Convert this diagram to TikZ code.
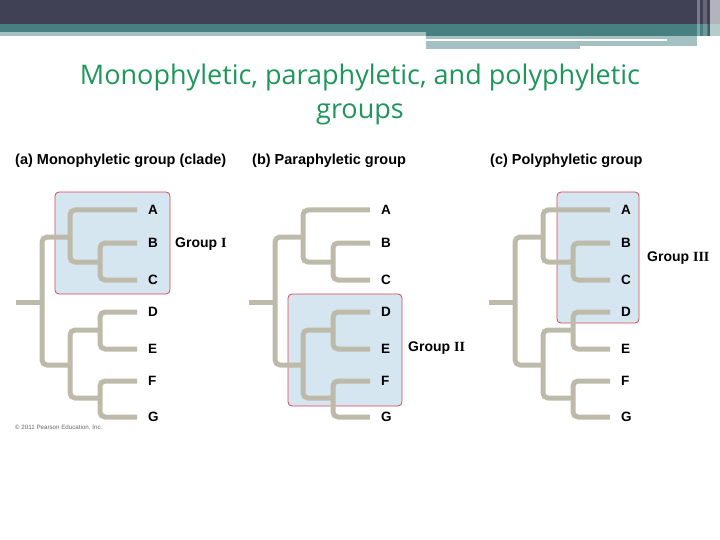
\documentclass[tikz,border=0pt]{standalone}
\usepackage{fontspec}
\setmainfont{Liberation Sans}
\newfontfamily\titlefont{Open Sans}
\newfontfamily\numfont{Liberation Serif}

\definecolor{hdrdark}{RGB}{65,65,85}
\definecolor{hdrteal}{RGB}{72,128,130}
\definecolor{hdrlight}{RGB}{165,192,195}
\definecolor{titlegreen}{RGB}{30,150,90}
\definecolor{treegrey}{RGB}{190,186,170}
\definecolor{boxblue}{RGB}{214,230,241}
\definecolor{boxred}{RGB}{215,70,80}

\tikzset{
  branch/.style={line width=5pt, draw=treegrey, rounded corners=5pt},
  taxon/.style={anchor=west, inner xsep=11pt, inner ysep=0pt,
    font=\bfseries\fontsize{13.5}{15}\selectfont},
  panellabel/.style={anchor=west, inner sep=0pt,
    font=\bfseries\fontsize{14.5}{16}\selectfont},
  grouplabel/.style={anchor=west, inner sep=0pt,
    font=\bfseries\fontsize{14}{16}\selectfont},
  groupbox/.style={draw=boxred, line width=0.8pt, fill=boxblue, rounded corners=4pt},
}

\begin{document}
\begin{tikzpicture}[x=1pt,y=-1pt]
\useasboundingbox (0,0) rectangle (720,540);
% slide header
\fill[hdrdark] (0,0) rectangle (720,24);
\fill[hdrteal] (0,24) rectangle (720,32);
\fill[hdrteal] (426,32) rectangle (720,36);
\fill[hdrlight] (0,32) rectangle (426,36);
\fill[hdrlight] (426,36) rectangle (697,46);
\fill[white] (426,39) rectangle (667,41);
\fill[hdrlight] (426,46) rectangle (580,49);
\fill[white,opacity=.3] (697,0) rectangle (700,48);
\fill[white,opacity=.2] (703,0) rectangle (707,48);
\fill[hdrdark,opacity=.6] (708,0) rectangle (710,36);
\fill[white,opacity=.6] (710,0) rectangle (720,48);

\node[font=\titlefont\fontsize{27}{34}\selectfont, text=titlegreen, align=center]
  (title) at (360,94) {Monophyletic, paraphyletic, and polyphyletic\\groups};

% highlighted groups
\draw[groupbox] (55,192) rectangle (170,294);
\draw[groupbox] (288,294) rectangle (402,406);
\draw[groupbox] (557,192) rectangle (639,323);

% the three trees
\foreach \p/\dx in {a/0, b/233, c/473}{
  \begin{scope}[xshift=\dx]
    \coordinate (\p-stub) at (16,302);
    \coordinate (\p-root) at (42,302);
    \coordinate (\p-abc) at (70,237);
    \coordinate (\p-bc) at (100,262);
    \coordinate (\p-defg) at (70,365);
    \coordinate (\p-de) at (100,330);
    \coordinate (\p-fg) at (100,398);
    \node[taxon] (\p-A) at (137,210) {A};
    \node[taxon] (\p-B) at (137,243) {B};
    \node[taxon] (\p-C) at (137,280) {C};
    \node[taxon] (\p-D) at (137,312) {D};
    \node[taxon] (\p-E) at (137,349) {E};
    \node[taxon] (\p-F) at (137,381) {F};
    \node[taxon] (\p-G) at (137,417) {G};
    \draw[branch] (\p-stub) -- (\p-root);
    \draw[branch] (\p-root) |- (\p-abc);
    \draw[branch] (\p-root) |- (\p-defg);
    \draw[branch] (\p-abc) |- (\p-A.west);
    \draw[branch] (\p-abc) |- (\p-bc);
    \draw[branch] (\p-bc) |- (\p-B.west);
    \draw[branch] (\p-bc) |- (\p-C.west);
    \draw[branch] (\p-defg) |- (\p-de);
    \draw[branch] (\p-defg) |- (\p-fg);
    \draw[branch] (\p-de) |- (\p-D.west);
    \draw[branch] (\p-de) |- (\p-E.west);
    \draw[branch] (\p-fg) |- (\p-F.west);
    \draw[branch] (\p-fg) |- (\p-G.west);
  \end{scope}
}

\node[panellabel] (lbl-a) at (15,161) {(a) Monophyletic group (clade)};
\node[panellabel] (lbl-b) at (252,161) {(b) Paraphyletic group};
\node[panellabel] (lbl-c) at (490,161) {(c) Polyphyletic group};

\node[grouplabel] (grp-a) at (175,244) {Group {\numfont I}};
\node[grouplabel] (grp-b) at (408,348) {Group {\numfont II}};
\node[grouplabel] (grp-c) at (647,258) {Group {\numfont III}};

\node[anchor=west, inner sep=0pt, text=black!60, font=\fontsize{6.2}{7}\selectfont]
  (copy) at (15,428) {\textcopyright\ 2011 Pearson Education, Inc.};
\end{tikzpicture}
\end{document}
